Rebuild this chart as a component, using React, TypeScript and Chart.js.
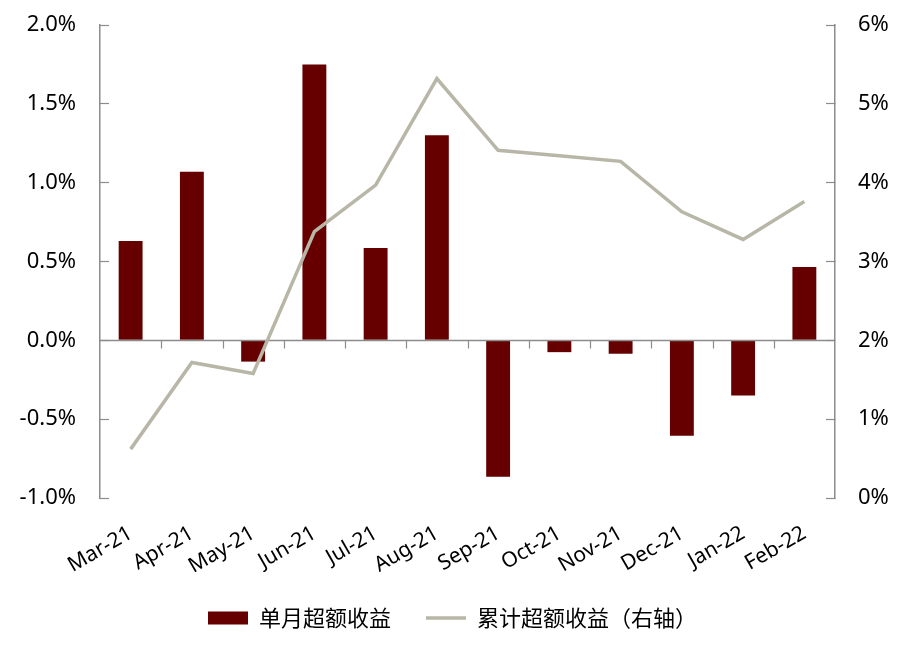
import React, { useEffect, useRef } from "react";
import { Chart, registerables } from "chart.js";

Chart.register(...registerables);

const categories = ["Mar-21", "Apr-21", "May-21", "Jun-21", "Jul-21", "Aug-21", "Sep-21", "Oct-21", "Nov-21", "Dec-21", "Jan-22", "Feb-22"];
const monthlyExcess = [0.63, 1.07, -0.135, 1.75, 0.585, 1.30, -0.865, -0.075, -0.085, -0.605, -0.35, 0.465];
const cumulativeExcess = [0.62, 1.72, 1.58, 3.38, 3.97, 5.32, 4.41, 4.34, 4.27, 3.63, 3.28, 3.76];
const seriesNames = ["单月超额收益", "累计超额收益（右轴）"];

const BAR_COLOR = "#660000";
const LINE_COLOR = "#B8B7A7";
const AXIS_COLOR = "#8C8C8C";
const FONT = "'Noto Sans', 'Noto Sans CJK SC', sans-serif";
const CJK_FONT = "'Noto Sans CJK SC', 'Noto Sans', sans-serif";

const zeroAxisPlugin = {
  id: "zeroAxis",
  beforeDatasetDraw(chart: any, args: any) {
    if (args.index !== 1) return;
    const { ctx, chartArea, scales } = chart;
    const y0 = Math.round(scales.y.getPixelForValue(0)) + 0.5;
    const xs = scales.x;
    const half = (xs.getPixelForValue(1) - xs.getPixelForValue(0)) / 2;
    ctx.save();
    ctx.strokeStyle = AXIS_COLOR;
    ctx.lineWidth = 1.5;
    ctx.beginPath();
    ctx.moveTo(chartArea.left, y0);
    ctx.lineTo(chartArea.right, y0);
    ctx.stroke();
    ctx.lineWidth = 1.2;
    ctx.beginPath();
    for (let i = 1; i < categories.length; i++) {
      const x = Math.round(xs.getPixelForValue(i) - half) + 0.5;
      ctx.moveTo(x, y0);
      ctx.lineTo(x, y0 + 8);
    }
    ctx.stroke();
    ctx.restore();
  },
};

const zeroPad = (s: any) => {
  s.paddingTop = 0;
  s.paddingBottom = 0;
  s.paddingLeft = 0;
  s.paddingRight = 0;
};

export default function App() {
  const ref = useRef<HTMLCanvasElement | null>(null);
  useEffect(() => {
    document.body.style.margin = "0";
    const canvas = ref.current;
    if (!canvas) return;
    const chart = new Chart(canvas, {
      type: "bar",
      data: {
        labels: categories,
        datasets: [
          {
            type: "bar",
            label: seriesNames[0],
            data: monthlyExcess,
            backgroundColor: BAR_COLOR,
            borderWidth: 0,
            yAxisID: "y",
            order: 1,
            categoryPercentage: 1,
            barPercentage: 0.39,
            pointStyle: "rect",
          } as any,
          {
            type: "line",
            label: seriesNames[1],
            data: cumulativeExcess,
            borderColor: LINE_COLOR,
            backgroundColor: LINE_COLOR,
            borderWidth: 3.5,
            pointRadius: 0,
            tension: 0,
            yAxisID: "y1",
            order: 0,
            pointStyle: "line",
          } as any,
        ],
      },
      options: {
        animation: false,
        responsive: true,
        maintainAspectRatio: false,
        layout: { padding: { top: 25, left: 0, right: 0, bottom: 13 } },
        plugins: {
          tooltip: { enabled: false },
          legend: {
            position: "bottom",
            labels: {
              usePointStyle: true,
              pointStyleWidth: 40,
              boxHeight: 13,
              padding: 35,
              color: "#000",
              font: { family: CJK_FONT, size: 22 },
              sort: (a: any, b: any) => a.datasetIndex - b.datasetIndex,
            },
          },
        },
        scales: {
          x: {
            type: "category",
            offset: true,
            grid: { display: false },
            border: { display: false },
            ticks: {
              autoSkip: false,
              maxRotation: 30,
              minRotation: 30,
              padding: 15,
              color: "#000",
              font: { family: FONT, size: 21 },
            },
            afterFit: (s: any) => {
              s.height = 74;
              zeroPad(s);
            },
          },
          y: {
            type: "linear",
            position: "left",
            min: -1,
            max: 2,
            ticks: {
              stepSize: 0.5,
              padding: 33,
              color: "#000",
              font: { family: FONT, size: 22 },
              callback: (v: any) => Number(v).toFixed(1) + "%",
            },
            grid: { drawOnChartArea: false, tickLength: -9, color: AXIS_COLOR, tickColor: AXIS_COLOR, tickWidth: 1.2 },
            border: { display: true, color: AXIS_COLOR, width: 1.5 },
            afterFit: (s: any) => {
              s.width = 100;
              zeroPad(s);
            },
          },
          y1: {
            type: "linear",
            position: "right",
            min: 0,
            max: 6,
            ticks: {
              stepSize: 1,
              padding: 32,
              color: "#000",
              font: { family: FONT, size: 22 },
              callback: (v: any) => Number(v).toFixed(0) + "%",
            },
            grid: { drawOnChartArea: false, tickLength: -9, color: AXIS_COLOR, tickColor: AXIS_COLOR, tickWidth: 1.2 },
            border: { display: true, color: AXIS_COLOR, width: 1.5 },
            afterFit: (s: any) => {
              s.width = 70;
              zeroPad(s);
            },
          },
        },
      } as any,
      plugins: [zeroAxisPlugin],
    });
    return () => chart.destroy();
  }, []);
  return (
    <div style={{ position: "relative", width: 905, height: 652 }}>
      <canvas ref={ref} />
    </div>
  );
}
